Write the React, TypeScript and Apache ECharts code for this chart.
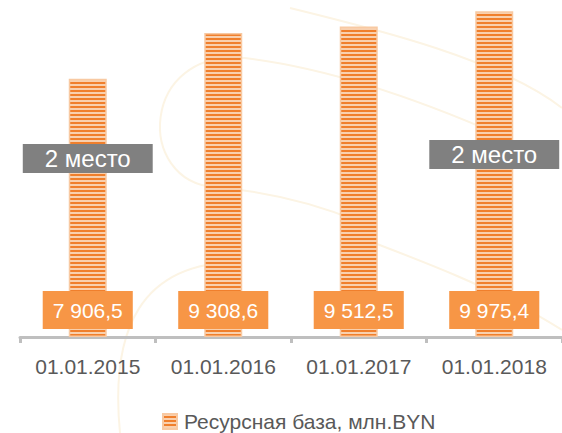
import React, { useEffect, useRef } from "react";
import * as echarts from "echarts";

const categories = ["01.01.2015", "01.01.2016", "01.01.2017", "01.01.2018"];
const values = [7906.5, 9308.6, 9512.5, 9975.4];
const rankLabelValues: (number | null)[] = [5470, null, null, 5590];
const rankText = "2 место";
const seriesName = "Ресурсная база, млн.BYN";

function fmt(v: number): string {
  const s = v.toFixed(1).replace(".", ",");
  const [i, d] = s.split(",");
  return i.replace(/\B(?=(\d{3})+(?!\d))/g, " ") + "," + d;
}

function makePattern(): HTMLCanvasElement {
  const c = document.createElement("canvas");
  c.width = 4;
  c.height = 4;
  const ctx = c.getContext("2d")!;
  ctx.fillStyle = "#F9D0AE";
  ctx.fillRect(0, 0, 4, 2);
  ctx.fillStyle = "#F07F2C";
  ctx.fillRect(0, 2, 4, 2);
  return c;
}

export default function App() {
  const ref = useRef<HTMLDivElement>(null);
  useEffect(() => {
    if (!ref.current) return;
    const chart = echarts.init(ref.current, null, { renderer: "svg" });
    const pattern = { image: makePattern(), repeat: "repeat" } as any;
    const wm = { stroke: "#FCF4E4", lineWidth: 2, fill: null } as any;
    chart.setOption({
      animation: false,
      backgroundColor: "#ffffff",
      textStyle: { fontFamily: "Liberation Sans" },
      graphic: [
        { type: "bezierCurve", silent: true, z: -10, shape: { x1: 245, y1: 58, cpx1: 140, cpy1: 48, cpx2: 135, cpy2: 182, x2: 215, y2: 187 }, style: wm },
        { type: "bezierCurve", silent: true, z: -10, shape: { x1: 215, y1: 187, cpx1: 270, cpy1: 192, cpx2: 320, cpy2: 205, x2: 360, y2: 222 }, style: wm },
        { type: "bezierCurve", silent: true, z: -10, shape: { x1: 245, y1: 58, cpx1: 330, cpy1: 68, cpx2: 420, cpy2: 100, x2: 500, y2: 135 }, style: wm },
        { type: "bezierCurve", silent: true, z: -10, shape: { x1: 290, y1: 8, cpx1: 380, cpy1: 30, cpx2: 500, cpy2: 60, x2: 562, y2: 108 }, style: wm },
        { type: "bezierCurve", silent: true, z: -10, shape: { x1: 120, y1: 433, cpx1: 110, cpy1: 330, cpx2: 140, cpy2: 262, x2: 240, y2: 262 }, style: wm },
        { type: "bezierCurve", silent: true, z: -10, shape: { x1: 340, y1: 230, cpx1: 420, cpy1: 260, cpx2: 500, cpy2: 290, x2: 562, y2: 330 }, style: wm },
      ],
      legend: {
        data: [seriesName],
        left: 162,
        top: 411,
        padding: 0,
        itemWidth: 14,
        itemHeight: 15,
        icon: "rect",
        textStyle: { color: "#595959", fontSize: 21, padding: [0, 0, 0, 2], fontFamily: "Liberation Sans" },
      },
      grid: { left: 20, right: -6, top: 10.5, bottom: 96 },
      xAxis: {
        type: "category",
        data: categories,
        axisLine: { lineStyle: { color: "#BFBFBF", width: 3 } },
        axisTick: { show: true, interval: 0, length: 6, lineStyle: { color: "#BFBFBF", width: 3 } },
        axisLabel: { interval: 0, color: "#595959", fontSize: 21, margin: 19, fontFamily: "Liberation Sans" },
      },
      yAxis: { type: "value", min: 0, max: 10000, show: false, splitLine: { show: false } },
      series: [
        {
          name: seriesName,
          type: "bar",
          data: values,
          barWidth: 38,
          itemStyle: { color: pattern, borderColor: "#F8C9A2", borderWidth: 1.5 },
          label: {
            show: true,
            position: "insideBottom",
            distance: 8,
            formatter: (p: any) => fmt(p.value),
            color: "#ffffff",
            textBorderWidth: 0,
            fontSize: 21,
            lineHeight: 26,
            backgroundColor: "#F79646",
            padding: [6, 10],
            fontFamily: "Liberation Sans",
          },
        },
        {
          name: "rank",
          type: "scatter",
          data: rankLabelValues,
          symbolSize: 0,
          z: 5,
          itemStyle: { opacity: 1, color: "#808080" },
          label: {
            show: true,
            position: "inside",
            formatter: () => rankText,
            color: "#ffffff",
            textBorderWidth: 0,
            fontSize: 24,
            lineHeight: 29,
            backgroundColor: "#808080",
            padding: [0, 22],
            fontFamily: "Liberation Sans",
          },
        },
      ],
    });
    return () => chart.dispose();
  }, []);
  return <div ref={ref} style={{ position: "absolute", left: 0, top: 0, width: 562, height: 433 }} />;
}
